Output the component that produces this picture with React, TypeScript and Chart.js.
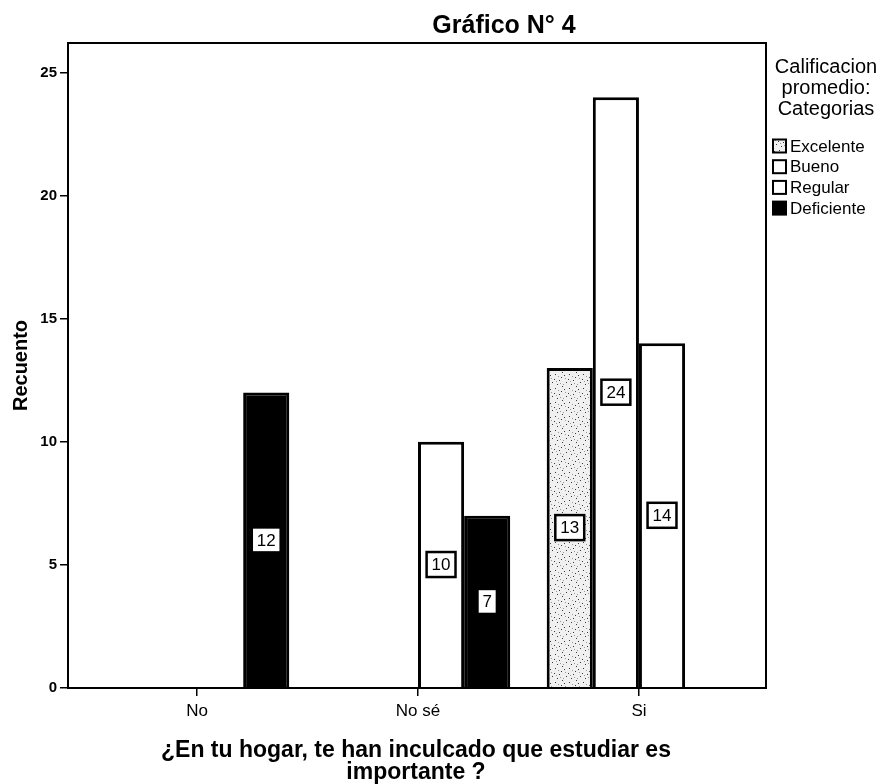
import React, { useEffect, useRef } from "react";
import { Chart, registerables } from "chart.js";

Chart.register(...registerables);

const categories = ["No", "No sé", "Si"];
const categoryValues = [1, 2, 3];
const seriesNames = ["Excelente", "Bueno", "Regular", "Deficiente"];
const excelente = [null, null, 13];
const bueno = [null, null, 24];
const regular = [null, 10, 14];
const deficiente = [12, 7, null];
const yTicks = [0, 5, 10, 15, 20, 25];
const chartTitle = "Gráfico N° 4";
const yTitle = "Recuento";
const xTitle = ["¿En tu hogar, te han inculcado que estudiar es", "importante ?"];
const legendTitle = ["Calificacion", "promedio:", "Categorias"];

const FONT = '"Liberation Sans", Arial, sans-serif';

function makePattern(): CanvasPattern | string {
  const c = document.createElement("canvas");
  c.width = 14;
  c.height = 14;
  const g = c.getContext("2d");
  if (!g) return "#e6e6e6";
  g.fillStyle = "#f0f0f0";
  g.fillRect(0, 0, 14, 14);
  g.fillStyle = "#3a3a3a";
  const dots = [[1, 2], [5, 8], [10, 3], [3, 12], [12, 10], [8, 0], [0, 7], [7, 5]];
  dots.forEach(([x, y]) => g.fillRect(x, y, 1, 1));
  g.fillStyle = "#9a9a9a";
  const soft = [[4, 4], [11, 6], [2, 9], [9, 12], [6, 11]];
  soft.forEach(([x, y]) => g.fillRect(x, y, 1, 1));
  return g.createPattern(c, "repeat") ?? "#e6e6e6";
}

const labelPlugin = {
  id: "valueBoxes",
  afterDatasetsDraw(chart: any) {
    const ctx = chart.ctx;
    ctx.save();
    chart.data.datasets.forEach((ds: any, di: number) => {
      const meta = chart.getDatasetMeta(di);
      meta.data.forEach((el: any, i: number) => {
        const p = ds.data[i];
        const v = p && p.y;
        if (v == null) return;
        const { x, y, base } = el.getProps(["x", "y", "base"], true);
        const cy = (y + base) / 2;
        ctx.font = `17px ${FONT}`;
        const tw = ctx.measureText(String(v)).width;
        const w = tw + 10;
        const h = 25;
        ctx.fillStyle = "#ffffff";
        ctx.fillRect(x - w / 2, cy - h / 2, w, h);
        ctx.lineWidth = 2.5;
        ctx.strokeStyle = "#000000";
        ctx.strokeRect(x - w / 2, cy - h / 2, w, h);
        ctx.fillStyle = "#000000";
        ctx.textAlign = "center";
        ctx.textBaseline = "middle";
        ctx.fillText(String(v), x, cy + 1);
      });
    });
    ctx.restore();
  },
};

const framePlugin = {
  id: "frameAndTexts",
  afterDraw(chart: any) {
    const ctx = chart.ctx;
    const a = chart.chartArea;
    ctx.save();
    ctx.strokeStyle = "#000000";
    ctx.lineWidth = 2;
    ctx.strokeRect(a.left, a.top, a.right - a.left, a.bottom - a.top);

    ctx.fillStyle = "#000000";
    ctx.textAlign = "center";

    // chart title
    ctx.font = `bold 25px ${FONT}`;
    ctx.textBaseline = "alphabetic";
    ctx.fillText(chartTitle, (a.left + a.right) / 2 + 87, a.top - 10);

    // x axis title
    const cx = chart.scales.x.getPixelForValue(categoryValues[1]);
    ctx.font = `bold 23px ${FONT}`;
    xTitle.forEach((line, i) => ctx.fillText(line, cx - 2, a.bottom + 69 + i * 22));

    // legend
    const lx = a.right + 60;
    ctx.textBaseline = "middle";
    ctx.font = `20px ${FONT}`;
    legendTitle.forEach((line, i) => ctx.fillText(line, lx, a.top + 24 + i * 21));
    ctx.font = `17px ${FONT}`;
    ctx.textAlign = "left";
    chart.data.datasets.forEach((ds: any, i: number) => {
      const by = a.top + 103 + i * 20.7;
      const bx = a.right + 7;
      ctx.fillStyle = ds.backgroundColor;
      ctx.fillRect(bx, by - 6.5, 13, 13);
      ctx.lineWidth = 2;
      ctx.strokeStyle = "#000000";
      ctx.strokeRect(bx, by - 6.5, 13, 13);
      ctx.fillStyle = "#000000";
      ctx.fillText(ds.label, bx + 17, by + 1);
    });
    ctx.restore();
  },
};

export default function App() {
  const ref = useRef<HTMLCanvasElement | null>(null);
  useEffect(() => {
    if (!ref.current) return;
    const pattern = makePattern();
    const fills = [pattern, "#ffffff", "#ffffff", "#000000"];
    const values = [excelente, bueno, regular, deficiente];
    const chart = new Chart(ref.current, {
      type: "bar",
      data: {
        datasets: seriesNames.map((name, i) => ({
          label: name,
          data: values[i].map((v, j) => ({ x: categoryValues[j], y: v })) as any,
          backgroundColor: fills[i] as any,
          borderColor: "#000000",
          borderWidth: 3,
          categoryPercentage: 0.835,
          barPercentage: 1,
        })),
      },
      options: {
        animation: false,
        responsive: true,
        maintainAspectRatio: false,
        layout: { padding: { top: 35, right: 111, bottom: 0, left: 0 } },
        plugins: {
          legend: { display: false },
          tooltip: { enabled: false },
          title: { display: false },
        },
        scales: {
          x: {
            type: "linear",
            position: "bottom",
            min: 0.416,
            max: 3.575,
            offset: false,
            afterBuildTicks: (s: any) => {
              s.ticks = categoryValues.map((v) => ({ value: v }));
            },
            afterFit: (s: any) => {
              s.height = 96;
            },
            ticks: {
              callback: (v: any) => categories[categoryValues.indexOf(Number(v))],
              color: "#000000",
              font: { family: FONT, size: 17 },
              padding: 5,
              maxRotation: 0,
              autoSkip: false,
            },
            grid: { drawOnChartArea: false, offset: false, tickLength: 8, color: "#000000", lineWidth: 1.5 },
            border: { color: "#000000", width: 2 },
          },
          y: {
            min: 0,
            max: 26.2,
            afterBuildTicks: (s: any) => {
              s.ticks = yTicks.map((v) => ({ value: v }));
            },
            afterFit: (s: any) => {
              s.width = 60;
            },
            ticks: { color: "#000000", font: { family: FONT, size: 15, weight: "bold" }, padding: 3 },
            grid: { drawOnChartArea: false, tickLength: 8, color: "#000000", lineWidth: 1.5 },
            border: { color: "#000000", width: 2 },
            title: {
              display: true,
              text: yTitle,
              color: "#000000",
              font: { family: FONT, size: 20, weight: "bold" },
              padding: { top: 1, bottom: 0 },
            },
          },
        },
      },
      plugins: [labelPlugin, framePlugin],
    });
    return () => chart.destroy();
  }, []);
  return (
    <div style={{ position: "absolute", left: 8, top: 8, width: 869, height: 776 }}>
      <canvas ref={ref} />
    </div>
  );
}
